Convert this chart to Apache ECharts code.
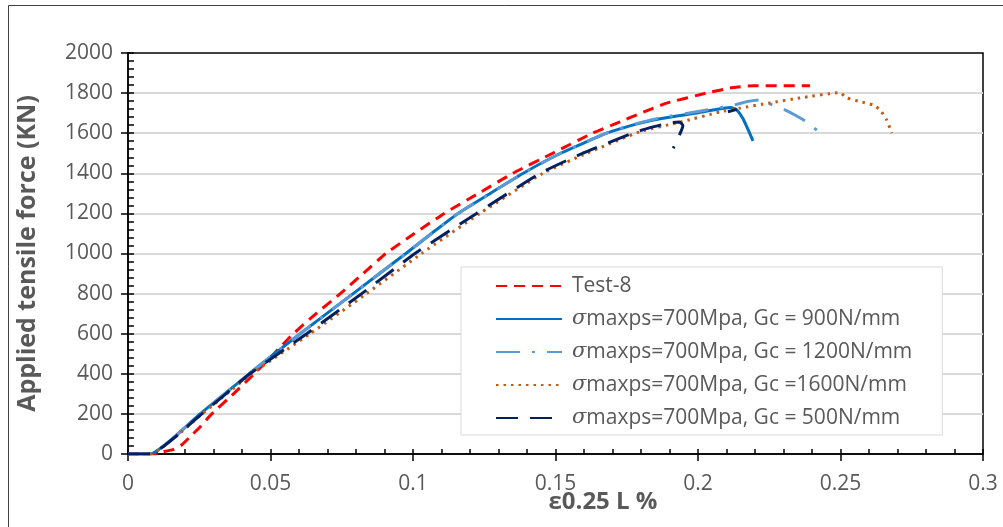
<!DOCTYPE html>
<html>
<head>
<meta charset="utf-8">
<script src="https://cdn.jsdelivr.net/npm/echarts@6/dist/echarts.min.js"></script>
<style>
  html, body { margin: 0; padding: 0; background: #fff; }
  #chart { width: 1003px; height: 527px; }
</style>
</head>
<body>
<div id="chart"></div>
<script>
const seriesNames = [
  'Test-8',
  'σmaxps=700Mpa, Gc = 900N/mm',
  'σmaxps=700Mpa, Gc = 1200N/mm',
  'σmaxps=700Mpa, Gc =1600N/mm',
  'σmaxps=700Mpa, Gc = 500N/mm'
]

// strain (%) , force (KN)
const test8 = [
  [0, 0], [0.0095, 0], [0.0118, 10], [0.0158, 22], [0.0188, 45], [0.0228, 100], [0.0253, 135],
  [0.0294, 200], [0.037, 300], [0.0443, 400], [0.0512, 500], [0.058, 600], [0.066, 700],
  [0.0745, 800], [0.0825, 900], [0.0905, 1000], [0.1005, 1100], [0.111, 1200], [0.123, 1300],
  [0.135, 1400], [0.149, 1500], [0.163, 1600], [0.1726, 1657], [0.18, 1700], [0.189, 1750],
  [0.203, 1800], [0.2123, 1828], [0.2193, 1837], [0.2393, 1837]
]
const gc900 = [
  [0, 0], [0.0077, 0], [0.0253, 200], [0.0425, 400], [0.0604, 600], [0.079, 800],
  [0.0975, 1000], [0.1065, 1100], [0.1158, 1200], [0.1387, 1400], [0.1518, 1500], [0.168, 1600],
  [0.1797, 1650], [0.1867, 1672], [0.2, 1702], [0.2115, 1728], [0.2135, 1718], [0.2158, 1672],
  [0.2175, 1620], [0.2193, 1562]
]
const gc1200 = [
  [0, 0], [0.0077, 0], [0.0253, 200], [0.0425, 400], [0.0604, 600], [0.079, 800],
  [0.0975, 1000], [0.1065, 1100], [0.1158, 1200], [0.1387, 1400], [0.1518, 1500], [0.168, 1602],
  [0.1797, 1653], [0.1867, 1676], [0.2, 1708], [0.2115, 1736], [0.217, 1757], [0.2214, 1766],
  [0.2246, 1750], [0.2305, 1716], [0.234, 1691], [0.238, 1658], [0.2418, 1614]
]
const gc1600 = [
  [0, 0], [0.0077, 0], [0.026, 200], [0.0434, 400], [0.0639, 600], [0.0837, 800],
  [0.103, 1000], [0.1235, 1200], [0.1456, 1400], [0.161, 1500], [0.1797, 1608], [0.1937, 1655],
  [0.2077, 1706], [0.2147, 1725], [0.2253, 1751], [0.2358, 1776], [0.2498, 1802], [0.2522, 1776],
  [0.2568, 1758], [0.2615, 1741], [0.2639, 1716], [0.2662, 1666], [0.268, 1600]
]
const gc500 = [
  [0, 0], [0.0077, 0], [0.0259, 200], [0.0428, 400], [0.0627, 600], [0.082, 800],
  [0.1007, 1000], [0.1223, 1200], [0.1446, 1400], [0.1595, 1500], [0.177, 1600], [0.1832, 1628],
  [0.1907, 1653], [0.1935, 1656], [0.1947, 1638], [0.1913, 1525],
  ['-', '-'], [0.2105, 1707], [0.2136, 1719]
]

const xTicks = { min: 0, max: 0.3, interval: 0.05 }
const yTicks = { min: 0, max: 2000, interval: 200 }

const textColor = '#595959'
const font = 'Open Sans'

const chart = echarts.init(document.getElementById('chart'))

const lineSeries = (name, data, color, type, width) => ({
  name: name,
  type: 'line',
  data: data,
  smooth: 0.15,
  symbol: 'none',
  showSymbol: false,
  lineStyle: { color: color, width: width, type: type, cap: 'butt' },
  itemStyle: { color: color }
})

chart.setOption({
  animation: false,
  textStyle: { fontFamily: font },
  grid: {
    left: 128,
    right: 20,
    top: 53,
    bottom: 73,
    show: true,
    borderColor: '#000',
    borderWidth: 1.5
  },
  legend: {
    orient: 'vertical',
    left: 461,
    top: 267,
    padding: [8, 30, 6, 34],
    itemGap: 11,
    itemWidth: 66,
    itemHeight: 14,
    backgroundColor: '#fff',
    borderColor: '#d9d9d9',
    borderWidth: 1,
    borderRadius: 0,
    itemStyle: { opacity: 0 },
    data: seriesNames,
    formatter: name => name.charAt(0) === 'σ'
      ? '{i|σ}{t|' + name.slice(1) + '}'
      : '{t|' + name + '}',
    textStyle: {
      fontFamily: font,
      fontSize: 21,
      lineHeight: 22,
      color: textColor,
      padding: [0, 0, 0, 5],
      rich: {
        i: { fontFamily: 'DejaVu Serif', fontStyle: 'italic', fontSize: 21, color: textColor },
        t: { fontFamily: font, fontSize: 21, color: textColor }
      }
    }
  },
  xAxis: [{
    type: 'value',
    min: xTicks.min,
    max: xTicks.max,
    interval: xTicks.interval,
    position: 'bottom',
    axisLine: { onZero: false, lineStyle: { color: '#000', width: 1.5 } },
    axisTick: { inside: true, length: 5, lineStyle: { color: '#000', width: 1.5 } },
    minorTick: { show: true, splitNumber: 5, length: 5, lineStyle: { color: '#000', width: 1.5 } },
    splitLine: { show: false },
    axisLabel: {
      margin: 20,
      fontSize: 21,
      color: textColor,
      fontFamily: font,
      formatter: v => String(Math.round(v * 100) / 100)
    }
  }, {
    type: 'value',
    min: xTicks.min,
    max: xTicks.max,
    interval: xTicks.interval,
    position: 'bottom',
    axisLine: { show: false },
    axisTick: { inside: false, length: 7, lineStyle: { color: '#000', width: 1.5 } },
    axisLabel: { show: false },
    splitLine: { show: false }
  }],
  yAxis: [{
    type: 'value',
    min: yTicks.min,
    max: yTicks.max,
    interval: yTicks.interval,
    position: 'left',
    name: 'Applied tensile force (KN)',
    nameLocation: 'middle',
    nameGap: 88,
    nameRotate: 90,
    nameTextStyle: { fontFamily: font, fontSize: 25, fontWeight: 'bold', color: textColor },
    axisLine: { onZero: false, lineStyle: { color: '#000', width: 1.5 } },
    axisTick: { inside: true, length: 6, lineStyle: { color: '#000', width: 1.5 } },
    minorTick: { show: true, splitNumber: 5, length: 6, lineStyle: { color: '#000', width: 1.5 } },
    splitLine: { show: true, showMinLine: false, showMaxLine: false, lineStyle: { color: '#d9d9d9', width: 2 } },
    axisLabel: { margin: 15, fontSize: 21, color: textColor, fontFamily: font, formatter: v => String(v) }
  }, {
    type: 'value',
    min: yTicks.min,
    max: yTicks.max,
    interval: yTicks.interval,
    position: 'left',
    axisLine: { show: false },
    axisTick: { inside: false, length: 7, lineStyle: { color: '#000', width: 1.5 } },
    axisLabel: { show: false },
    splitLine: { show: false }
  }],
  graphic: [{
    type: 'polyline',
    shape: { points: [[8.5, 527], [8.5, 5.5], [1003, 5.5]] },
    style: { stroke: '#404040', lineWidth: 1, fill: null },
    silent: true
  }, {
    type: 'text',
    x: 603,
    y: 502,
    style: {
      text: 'ε0.25 L %',
      fontFamily: font,
      fontSize: 24,
      fontWeight: 'bold',
      fill: textColor,
      align: 'center',
      verticalAlign: 'middle'
    }
  }],
  series: [
    lineSeries(seriesNames[0], test8, '#ff0000', [11, 7], 3),
    lineSeries(seriesNames[1], gc900, '#0070c0', 'solid', 3),
    lineSeries(seriesNames[2], gc1200, '#5b9bd5', [24, 12, 3, 12], 3),
    lineSeries(seriesNames[3], gc1600, '#c55a11', [2.5, 5], 3),
    lineSeries(seriesNames[4], gc500, '#002060', [22, 12], 3)
  ]
})
</script>
</body>
</html>
